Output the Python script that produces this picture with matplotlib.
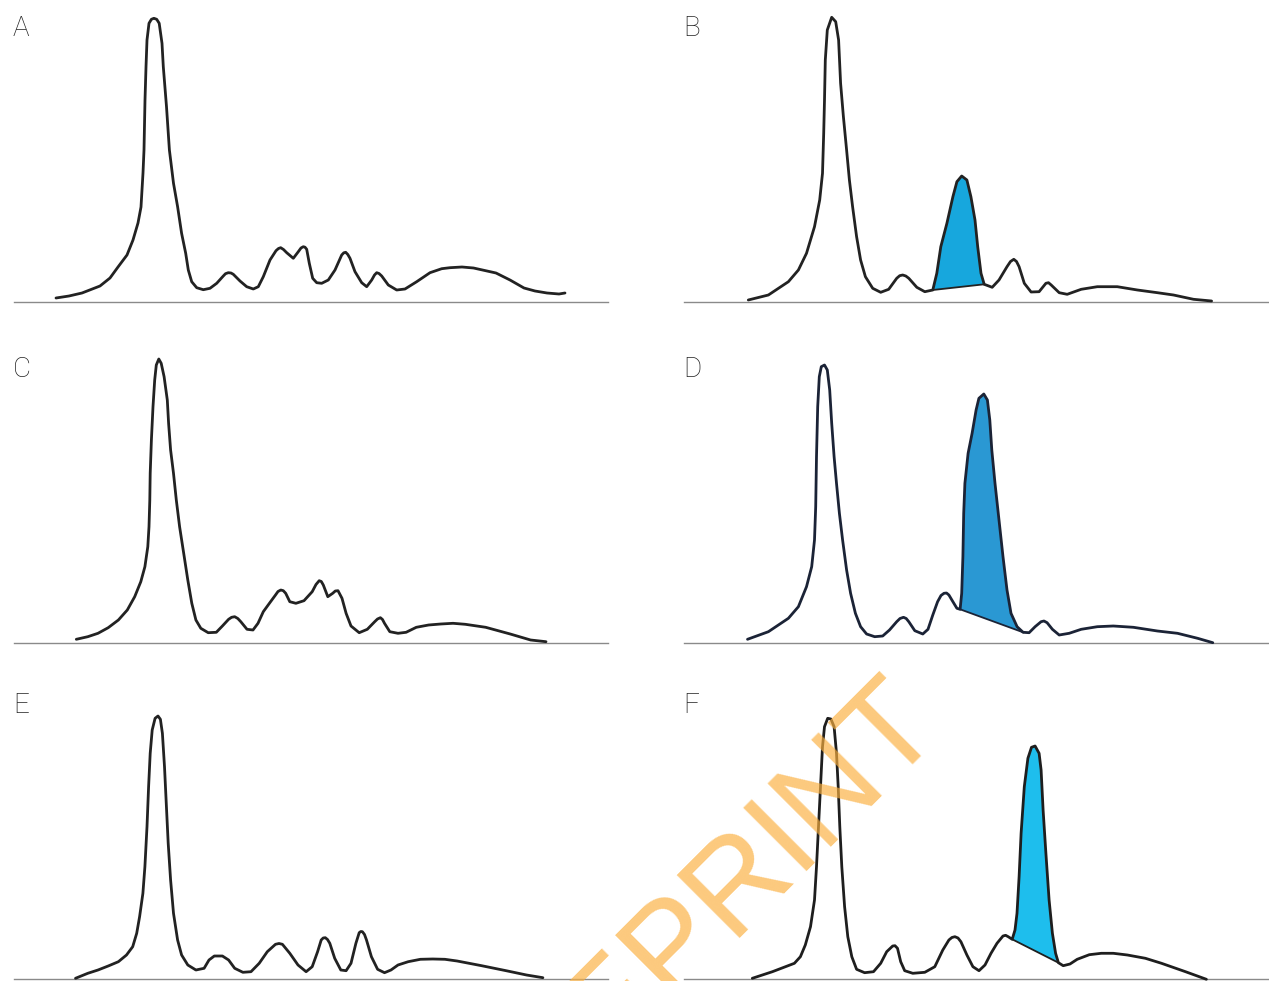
import matplotlib
matplotlib.use("Agg")
import matplotlib.pyplot as plt
import numpy as np

# traced densitometry curves: x = migration distance, y = intensity (same units for all panels)
a_x = [42, 55, 68, 86, 96, 104, 113, 119, 124, 127, 129, 130, 131, 132, 133, 135, 137.4, 139.9, 142.7,
       145.2, 148, 149.3, 152.5, 155.4, 159.5, 163.6, 167.6, 171.7, 174.3, 177.7, 182.7, 189.3, 196,
       202.7, 209.3, 211.5, 214.3, 217, 219.3, 226, 232.7, 239.3, 244.3, 249.3, 256, 262, 264.5, 266.7,
       269.5, 272.7, 279.3, 284.3, 287, 289.3, 291, 292.7, 295.3, 298.7, 302.7, 307.7, 314.3, 321,
       327.7, 329.8, 331.7, 333.8, 336, 341, 347.7, 352.7, 357.7, 360.5, 362.7, 365, 367.7, 374.3,
       382.7, 391, 402.7, 416, 427.7, 436, 448, 459.5, 482, 496, 510, 521, 533, 545, 551]
a_y = [4, 6, 9, 16, 24, 35, 47, 62, 79, 95, 129, 152, 202, 235, 262, 278.7, 282.7, 283.7, 282.7,
       278.7, 258.7, 235.3, 195.3, 152, 118.7, 95.3, 68.7, 48.7, 32, 20.3, 14.3, 12.3, 13.7,
       18.7, 26, 28.3, 29.3, 29, 27.7, 21, 15.3, 13, 15.3, 25.3, 42, 51.3, 53.5, 54.3,
       52.5, 49.3, 43.7, 50.3, 54, 55.3, 54.8, 52.7, 38.7, 23.7, 19.3, 18.7, 22, 32,
       47, 49.2, 49.7, 47.5, 43.7, 30.3, 19.3, 15.3, 22, 27, 29.3, 28.5, 26, 17,
       12, 13, 20.3, 29.3, 33.3, 34.3, 35, 34, 29, 22, 14, 11, 9, 8, 9]

b_x = [64.3, 84.4, 104.4, 114.4, 122.5, 130.5, 135.7, 138.5, 139.7, 140.5, 141.3, 143.3, 147.7, 151.7,
       154.6, 156.6, 159.4, 162.6, 165.4, 168.6, 172.6, 176.6, 181.4, 188.7, 196.7, 204.7, 212.7,
       215.7, 218.7, 221.8, 224.8, 232.8, 240.8, 248.8, 252.8, 256.8, 262.9, 268.9, 272.9, 277.7,
       282.9, 286.9, 291, 293.7, 297, 300.2, 308.2, 315, 323, 326.5, 329.8, 332.5, 335.1, 340.3,
       347.1, 355.1, 361.9, 364.5, 367.2, 375.2, 383.2, 397.2, 413.3, 433.3, 453.4, 473.4, 489.5,
       509.5, 527.6]
b_y = [2, 7, 20.3, 32, 48.7, 75.3, 102, 128.7, 168.7, 202, 242, 272, 284.7, 280.3,
       262, 218.7, 185.3, 152, 122, 95.3, 65.3, 42, 25.3, 13.7, 9.7, 12.7, 23.7,
       26.3, 27, 26, 23.7, 14.7, 10.3, 12, 28.7, 55.3, 78.7, 105.3, 120.3, 126,
       122, 105.3, 82, 55.3, 28.7, 17.7, 14.7, 22, 35.3, 40.5, 42.7, 40.5, 35.3, 18.7,
       10, 10.3, 18.7, 19.3, 17, 9.3, 7.7, 12.7, 15.3, 15.3, 12, 9.3, 7,
       2.7, 1]
b_shade = (248.8, 300.2)

c_x = [62.3, 73.8, 84, 94.2, 104.4, 113.3, 120.7, 126.8, 130.9, 133.8, 135, 135.8, 136.2, 137.4, 139,
       140.7, 142.3, 144.8, 147.2, 150.1, 153.3, 154.6, 156.6, 159.5, 162.3, 165.6, 169.7, 173.8,
       177.8, 181.9, 186.8, 194.2, 202.3, 208.4, 214.6, 217.6, 220.7, 223.8, 226.8, 233, 239, 244,
       249.3, 255.4, 261.5, 264, 266.8, 269.3, 271.7, 275.8, 281.9, 290, 298.2, 302, 305.2, 307.3,
       309.3, 313.8, 318.7, 321.3, 324, 328, 332.1, 337, 345.2, 353.3, 360.7, 363.5, 366.4, 368.5,
       370.5, 375.8, 384, 392.1, 402.3, 414.6, 426.8, 439, 451.3, 471.7, 496.2, 516.6, 532]
c_y = [3.7, 6.3, 9.7, 15.3, 23, 33, 46.3, 61.3, 76.3, 96.3, 116.3, 143, 169.7, 203, 236.3,
       263, 278, 284, 279.7, 266.3, 243, 219.7, 193, 169.7, 143, 116.3, 89.7, 63,
       39.7, 23, 14.7, 10.3, 10.7, 17, 23.7, 25.7, 26.3, 24.5, 21.3, 13.7, 13, 19.7,
       31.3, 39.7, 48, 51.5, 53, 52.3, 49.7, 41.3, 39.7, 42.3, 51.3, 58.5, 62.3, 61.5,
       58, 46.3, 49.7, 52, 52.3, 44.7, 29.7, 17, 10.3, 13.7, 21.3, 24, 25.3, 23.5,
       19.7, 11.3, 9.7, 10.7, 15.7, 18, 19, 19.7, 18.7, 15.7, 9, 3, 1.3]

d_x = [63.5, 84.4, 104.4, 114.4, 122.5, 127.7, 130.5, 131.7, 132.5, 133.7, 135.3, 137.3, 140.5, 143.3,
       145.7, 147.7, 150.1, 152.5, 155.4, 158.6, 162.6, 166.6, 171.4, 176.6, 182.6, 190.7, 198.7,
       205.5, 212.7, 216, 219.5, 222.2, 224.8, 230.8, 238.8, 244, 248.8, 253.6, 257, 260, 262.5,
       264.9, 268.9, 272.9, 276.1, 277.7, 278.9, 279.7, 280.9, 284.1, 288.1, 292.1, 294.9, 299.8,
       303.4, 305.8, 307.8, 311, 315, 319, 323, 327, 333.1, 339.1, 345.1, 351.1, 357.1, 360, 363.1,
       368.4, 375.2, 385.2, 397.2, 413.3, 429.3, 449.4, 473.4, 493.5, 513.6, 528.8]
d_y = [3.7, 11.3, 24.7, 36.3, 56.3, 76.3, 103, 136.3, 186.3, 236.3, 266.3, 276.3, 278, 273,
       253, 219.7, 186.3, 159.7, 129.7, 103, 73, 49.7, 29.7, 16.3, 9, 6.3, 7,
       13, 21.3, 24.5, 25.7, 24.5, 21.3, 12.3, 9, 13.7, 28, 41.3, 47.5, 49.7, 50,
       48, 41.3, 34.7, 33.7, 49.7, 86.3, 129.7, 159.7, 189.7, 209.7, 233, 244.7, 249,
       243, 223, 193, 159.7, 123, 86.3, 53, 29.7, 16.3, 10.7, 10.3, 16.3, 21.3, 22, 20.3,
       13.7, 8, 9.7, 13.7, 16.3, 17, 15.7, 12, 9.7, 4.7, 0.3]
d_shade = (276.1, 339.1)

e_x = [61.5, 73.8, 84, 94.2, 104.4, 112.5, 118.7, 122.7, 125.6, 128.9, 130.9, 133, 134.6, 136.2, 138.2,
       141.1, 144, 146.4, 148.4, 150.5, 152.1, 154.2, 156.6, 159.5, 163.6, 167.6, 173.8, 181.9, 190.1,
       195, 200.3, 208.4, 214.6, 220.7, 228.9, 237, 245.2, 253.3, 261.5, 265, 268.4, 275.8, 284, 292.1,
       298.2, 303.6, 307.2, 309.2, 311.3, 313.5, 315.8, 320.7, 326.8, 332.1, 337, 341.9, 345.2, 346.8,
       348.4, 350.5, 352.5, 357.4, 363.6, 370.5, 377, 384, 394.2, 406.4, 418.7, 430.9, 443.1, 467.6,
       492.1, 512.5, 528.9]
e_y = [0.7, 5.7, 9, 13, 17.3, 24, 32.3, 45.7, 62.3, 85.7, 112.3, 152.3, 192.3, 225.7, 249,
       260.7, 263, 259.7, 245.7, 212.3, 179, 135.7, 99, 65.7, 39, 24, 14, 9, 10.7,
       19, 23, 23, 19, 10.7, 6.7, 7.3, 15.7, 27.3, 34.7, 35.5, 34.7, 25.7, 14, 7.3,
       12.3, 27.3, 39, 41, 41.3, 39.5, 35.7, 20.7, 9, 8.3, 15.7, 35.7, 46.3, 47.5,
       47.3, 44.5, 39, 22.3, 9.7, 6.3, 9, 14, 17.3, 19.7, 20, 19.7, 18, 13.3,
       8.3, 4, 1.3]

f_x = [68.3, 88.4, 110.4, 116.4, 121.3, 126.5, 130.5, 132.5, 134.5, 136.5, 138.5, 140.5, 143.7, 146.9,
       150.1, 152.5, 154.2, 155.8, 157.8, 160.6, 163.8, 167.8, 172.6, 180.6, 189.5, 196.7, 202.7,
       208.7, 211, 213.5, 216.7, 220.7, 228.8, 240.8, 250.8, 258.8, 264.9, 267.9, 270.9, 274, 276.9,
       282.9, 288.9, 295, 301, 307, 313, 319, 321.6, 324.2, 328.2, 331, 333, 335.1, 337.1, 340.3,
       343.9, 347.5, 351.1, 355.1, 357.1, 359.1, 361.9, 365.1, 368.4, 371.6, 374.4, 379.2, 386,
       393.2, 405.3, 417.3, 429.3, 443.4, 461.4, 477.5, 501.5, 522.4]
f_y = [0.7, 7.3, 15.7, 22.3, 34, 52.3, 79, 112.3, 152.3, 192.3, 232.3, 252.3, 260.7, 260,
       252.3, 225.7, 192.3, 152.3, 112.3, 72.3, 42.3, 22.3, 9.7, 6.3, 7.3, 15.7, 27.3,
       33, 33.3, 30.7, 17.3, 8.3, 5.7, 6.7, 12.3, 29, 39, 41.5, 42.3, 41, 37.3,
       24, 12.3, 8.3, 14, 25.7, 35.7, 43, 43.7, 42.3, 39.7, 49, 65.7, 102.3, 145.7, 192.3,
       220.7, 231.7, 233, 225.7, 209, 169, 125.7, 79, 45.7, 25.7, 16.3, 13.3, 15,
       19.7, 24.3, 25.7, 25.7, 24, 20.7, 15.7, 7.3, -0.3]
f_shade = (328.2, 374.4)

labels = ["A", "B", "C", "D", "E", "F"]
watermark = "PREPRINT"

# ---------------------------------------------------------------------------
W, H = 1269, 981
fig = plt.figure(figsize=(W / 100, H / 100), dpi=100)
fig.patch.set_facecolor("white")

# panel layout in pixels: (left, baseline from top, width)
layout = {
    "A": (14, 302, 594), "B": (684, 302, 585),
    "C": (14, 643, 594), "D": (684, 643, 585),
    "E": (14, 979, 594), "F": (684, 979, 585),
}
panel_h = 300

panels = {
    "A": (a_x, a_y, None, "#222222", None),
    "B": (b_x, b_y, b_shade, "#222222", "#17a7dd"),
    "C": (c_x, c_y, None, "#222222", None),
    "D": (d_x, d_y, d_shade, "#1b2336", "#2a98d3"),
    "E": (e_x, e_y, None, "#222222", None),
    "F": (f_x, f_y, f_shade, "#1e1e1e", "#1ebeed"),
}

for lab in labels:
    left, base, width = layout[lab]
    ax = fig.add_axes([left / W, (H - base) / H, width / W, panel_h / H])
    ax.set_xlim(0, width)
    ax.set_ylim(0, panel_h)
    for s in ["top", "right", "left"]:
        ax.spines[s].set_visible(False)
    ax.spines["bottom"].set_color("#8a8a8a")
    ax.spines["bottom"].set_linewidth(1.0)
    ax.set_xticks([])
    ax.set_yticks([])
    ax.patch.set_alpha(0)

    xs, ys, shade, lc, fc = panels[lab]
    xs = np.array(xs)
    ys = np.array(ys)
    if shade is not None:
        m = (xs >= shade[0] - 1e-6) & (xs <= shade[1] + 1e-6)
        ax.fill(xs[m], ys[m], color=fc, zorder=2, lw=0)
        sx, sy = xs[m], ys[m]
        ax.plot([sx[0], sx[-1]], [sy[0], sy[-1]], color=lc, lw=1.3, zorder=3)
    ax.plot(xs, ys, color=lc, lw=2.0, solid_joinstyle="round",
            solid_capstyle="round", zorder=4, clip_on=False)

    fig.text((left - 1) / W, (H - base + 266) / H, lab, fontsize=20,
             family="Roboto", fontweight="light", color="#222222",
             ha="left", va="baseline")

# watermark runs off the bottom edge, as in the original
fig.text(943 / W, (H - 724) / H, watermark, fontsize=93, family="Liberation Sans",
         color="#fbb040", alpha=0.68, rotation=45, rotation_mode="anchor",
         ha="right", va="baseline", zorder=10)

fig.savefig("out.png", dpi=100)
